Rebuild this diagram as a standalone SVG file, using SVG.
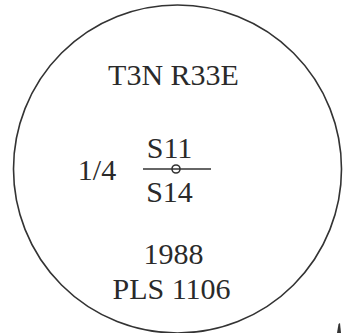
<svg xmlns="http://www.w3.org/2000/svg" width="347" height="333" viewBox="0 0 347 333">
<style>
text{font-family:"Liberation Serif","Times New Roman",serif;fill:#2a2a2a;text-anchor:middle}
.big{font-size:30px}
.ln{stroke:#333;stroke-width:1.6;fill:none}
</style>
<rect width="347" height="333" fill="#fff"/>
<g id="corner">
<circle class="ln" cx="177.5" cy="169" r="164"/>
<text class="big" x="173.5" y="84.5">T3N R33E</text>
<text class="big" x="97" y="180">1/4</text>
<text class="big" x="169.5" y="158">S11</text>
<line class="ln" x1="143" y1="169" x2="211" y2="169" stroke-width="2"/>
<circle class="ln" cx="176" cy="169" r="4" fill="#fff"/>
<text class="big" x="169.5" y="202">S14</text>
<text class="big" x="173.5" y="264">1988</text>
<text class="big" x="171.5" y="299">PLS 1106</text>
</g>
<polygon points="337,333 338.5,324 340,323 341,333" fill="#333"/>
</svg>
